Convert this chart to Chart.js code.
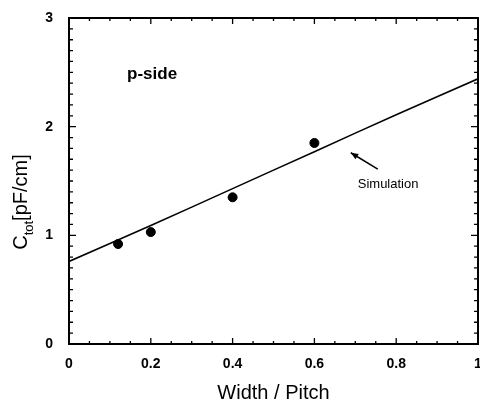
<!DOCTYPE html>
<html>
<head>
<meta charset="utf-8">
<script src="https://cdn.jsdelivr.net/npm/chart.js@4/dist/chart.umd.min.js"></script>
<style>
  html, body { margin: 0; padding: 0; background: #fff; }
  canvas { display: block; }
</style>
</head>
<body>
<canvas id="chart" width="480" height="406"></canvas>
<script>
// measured points (p-side)
const widthPitch = [0.12, 0.2, 0.4, 0.6];
const measuredC = [0.92, 1.03, 1.35, 1.85];
// simulation curve
const simX = [0, 0.2, 0.4, 0.6, 0.8, 1.0];
const simC = [0.76, 1.09, 1.43, 1.77, 2.11, 2.44];
// axis ticks
const xTicks = [0, 0.2, 0.4, 0.6, 0.8, 1];
const yTicks = [0, 1, 2, 3];

const FONT = 'Liberation Sans, Arial, Helvetica, sans-serif';

// frame + inward ticks on all four sides, plus the text annotations
const framePlugin = {
  id: 'frame',
  afterDraw(chart) {
    const ctx = chart.ctx;
    const a = chart.chartArea;
    const xs = chart.scales.x, ys = chart.scales.y;
    ctx.save();
    ctx.strokeStyle = '#000';
    ctx.lineWidth = 2;
    ctx.strokeRect(a.left, a.top, a.right - a.left, a.bottom - a.top);

    ctx.lineWidth = 1.3;
    ctx.beginPath();
    for (let i = 0; i <= 20; i++) {
      const px = xs.getPixelForValue(i * 0.05);
      const len = i % 4 === 0 ? 6 : 3;
      ctx.moveTo(px, a.bottom); ctx.lineTo(px, a.bottom - len);
      ctx.moveTo(px, a.top); ctx.lineTo(px, a.top + len);
    }
    for (let i = 0; i <= 30; i++) {
      const py = ys.getPixelForValue(i * 0.1);
      const len = i % 10 === 0 ? 7 : 4;
      ctx.moveTo(a.left, py); ctx.lineTo(a.left + len, py);
      ctx.moveTo(a.right, py); ctx.lineTo(a.right - len, py);
    }
    ctx.stroke();

    // p-side label
    ctx.fillStyle = '#000';
    ctx.font = 'bold 17px ' + FONT;
    ctx.textBaseline = 'middle';
    ctx.textAlign = 'left';
    ctx.fillText('p-side', xs.getPixelForValue(0.142), ys.getPixelForValue(2.48));

    // Simulation label with arrow
    ctx.font = '13px ' + FONT;
    ctx.fillText('Simulation', xs.getPixelForValue(0.706), ys.getPixelForValue(1.47));
    const x1 = xs.getPixelForValue(0.755), y1 = ys.getPixelForValue(1.61);
    const x2 = xs.getPixelForValue(0.689), y2 = ys.getPixelForValue(1.76);
    ctx.lineWidth = 1.5;
    ctx.beginPath();
    ctx.moveTo(x1, y1); ctx.lineTo(x2, y2);
    ctx.stroke();
    const ang = Math.atan2(y2 - y1, x2 - x1);
    ctx.beginPath();
    ctx.moveTo(x2, y2);
    ctx.lineTo(x2 - 8 * Math.cos(ang - 0.4), y2 - 8 * Math.sin(ang - 0.4));
    ctx.lineTo(x2 - 8 * Math.cos(ang + 0.4), y2 - 8 * Math.sin(ang + 0.4));
    ctx.closePath();
    ctx.fill();

    // y axis title with subscript
    const cy = 202;
    ctx.translate(27, cy);
    ctx.rotate(-Math.PI / 2);
    ctx.textBaseline = 'alphabetic';
    ctx.font = '20px ' + FONT;
    const wC = ctx.measureText('C').width;
    ctx.font = '13px ' + FONT;
    const wSub = ctx.measureText('tot').width;
    ctx.font = '20px ' + FONT;
    const wRest = ctx.measureText('[pF/cm]').width;
    let x0 = -(wC + wSub + wRest) / 2;
    ctx.fillText('C', x0, 0);
    ctx.font = '13px ' + FONT;
    ctx.fillText('tot', x0 + wC, 6);
    ctx.font = '20px ' + FONT;
    ctx.fillText('[pF/cm]', x0 + wC + wSub, 0);
    ctx.restore();
  }
};

new Chart(document.getElementById('chart'), {
  type: 'scatter',
  data: {
    datasets: [
      {
        type: 'line',
        label: 'Simulation',
        data: simX.map((x, i) => ({ x: x, y: simC[i] })),
        borderColor: '#000',
        borderWidth: 1.6,
        pointRadius: 0,
        tension: 0.3,
        fill: false
      },
      {
        label: 'p-side',
        data: widthPitch.map((x, i) => ({ x: x, y: measuredC[i] })),
        backgroundColor: '#000',
        borderColor: '#000',
        pointRadius: 4.5,
        pointHoverRadius: 4.5
      }
    ]
  },
  options: {
    responsive: false,
    animation: false,
    layout: { autoPadding: false, padding: { top: 18, right: 2, left: 0, bottom: 0 } },
    plugins: { legend: { display: false }, tooltip: { enabled: false } },
    scales: {
      x: {
        type: 'linear',
        min: 0, max: 1,
        afterBuildTicks: s => { s.ticks = xTicks.map(v => ({ value: v })); },
        afterFit: s => { s.height = 62; s.paddingLeft = 0; s.paddingRight = 0; },
        grid: { display: false, drawTicks: false },
        border: { display: false },
        ticks: {
          padding: 12,
          color: '#000',
          font: { family: FONT, size: 14, weight: 'bold' },
          callback: v => v === 0 ? '0' : v === 1 ? '1' : v.toFixed(1)
        },
        title: {
          display: true,
          text: 'Width / Pitch',
          color: '#000',
          font: { family: FONT, size: 20 },
          padding: { top: 4, bottom: 1 }
        }
      },
      y: {
        type: 'linear',
        min: 0, max: 3,
        afterBuildTicks: s => { s.ticks = yTicks.map(v => ({ value: v })); },
        afterFit: s => { s.width = 69; s.paddingTop = 0; s.paddingBottom = 0; },
        grid: { display: false, drawTicks: false },
        border: { display: false },
        ticks: {
          padding: 16,
          color: '#000',
          font: { family: FONT, size: 14, weight: 'bold' }
        }
      }
    }
  },
  plugins: [framePlugin]
});
</script>
</body>
</html>
